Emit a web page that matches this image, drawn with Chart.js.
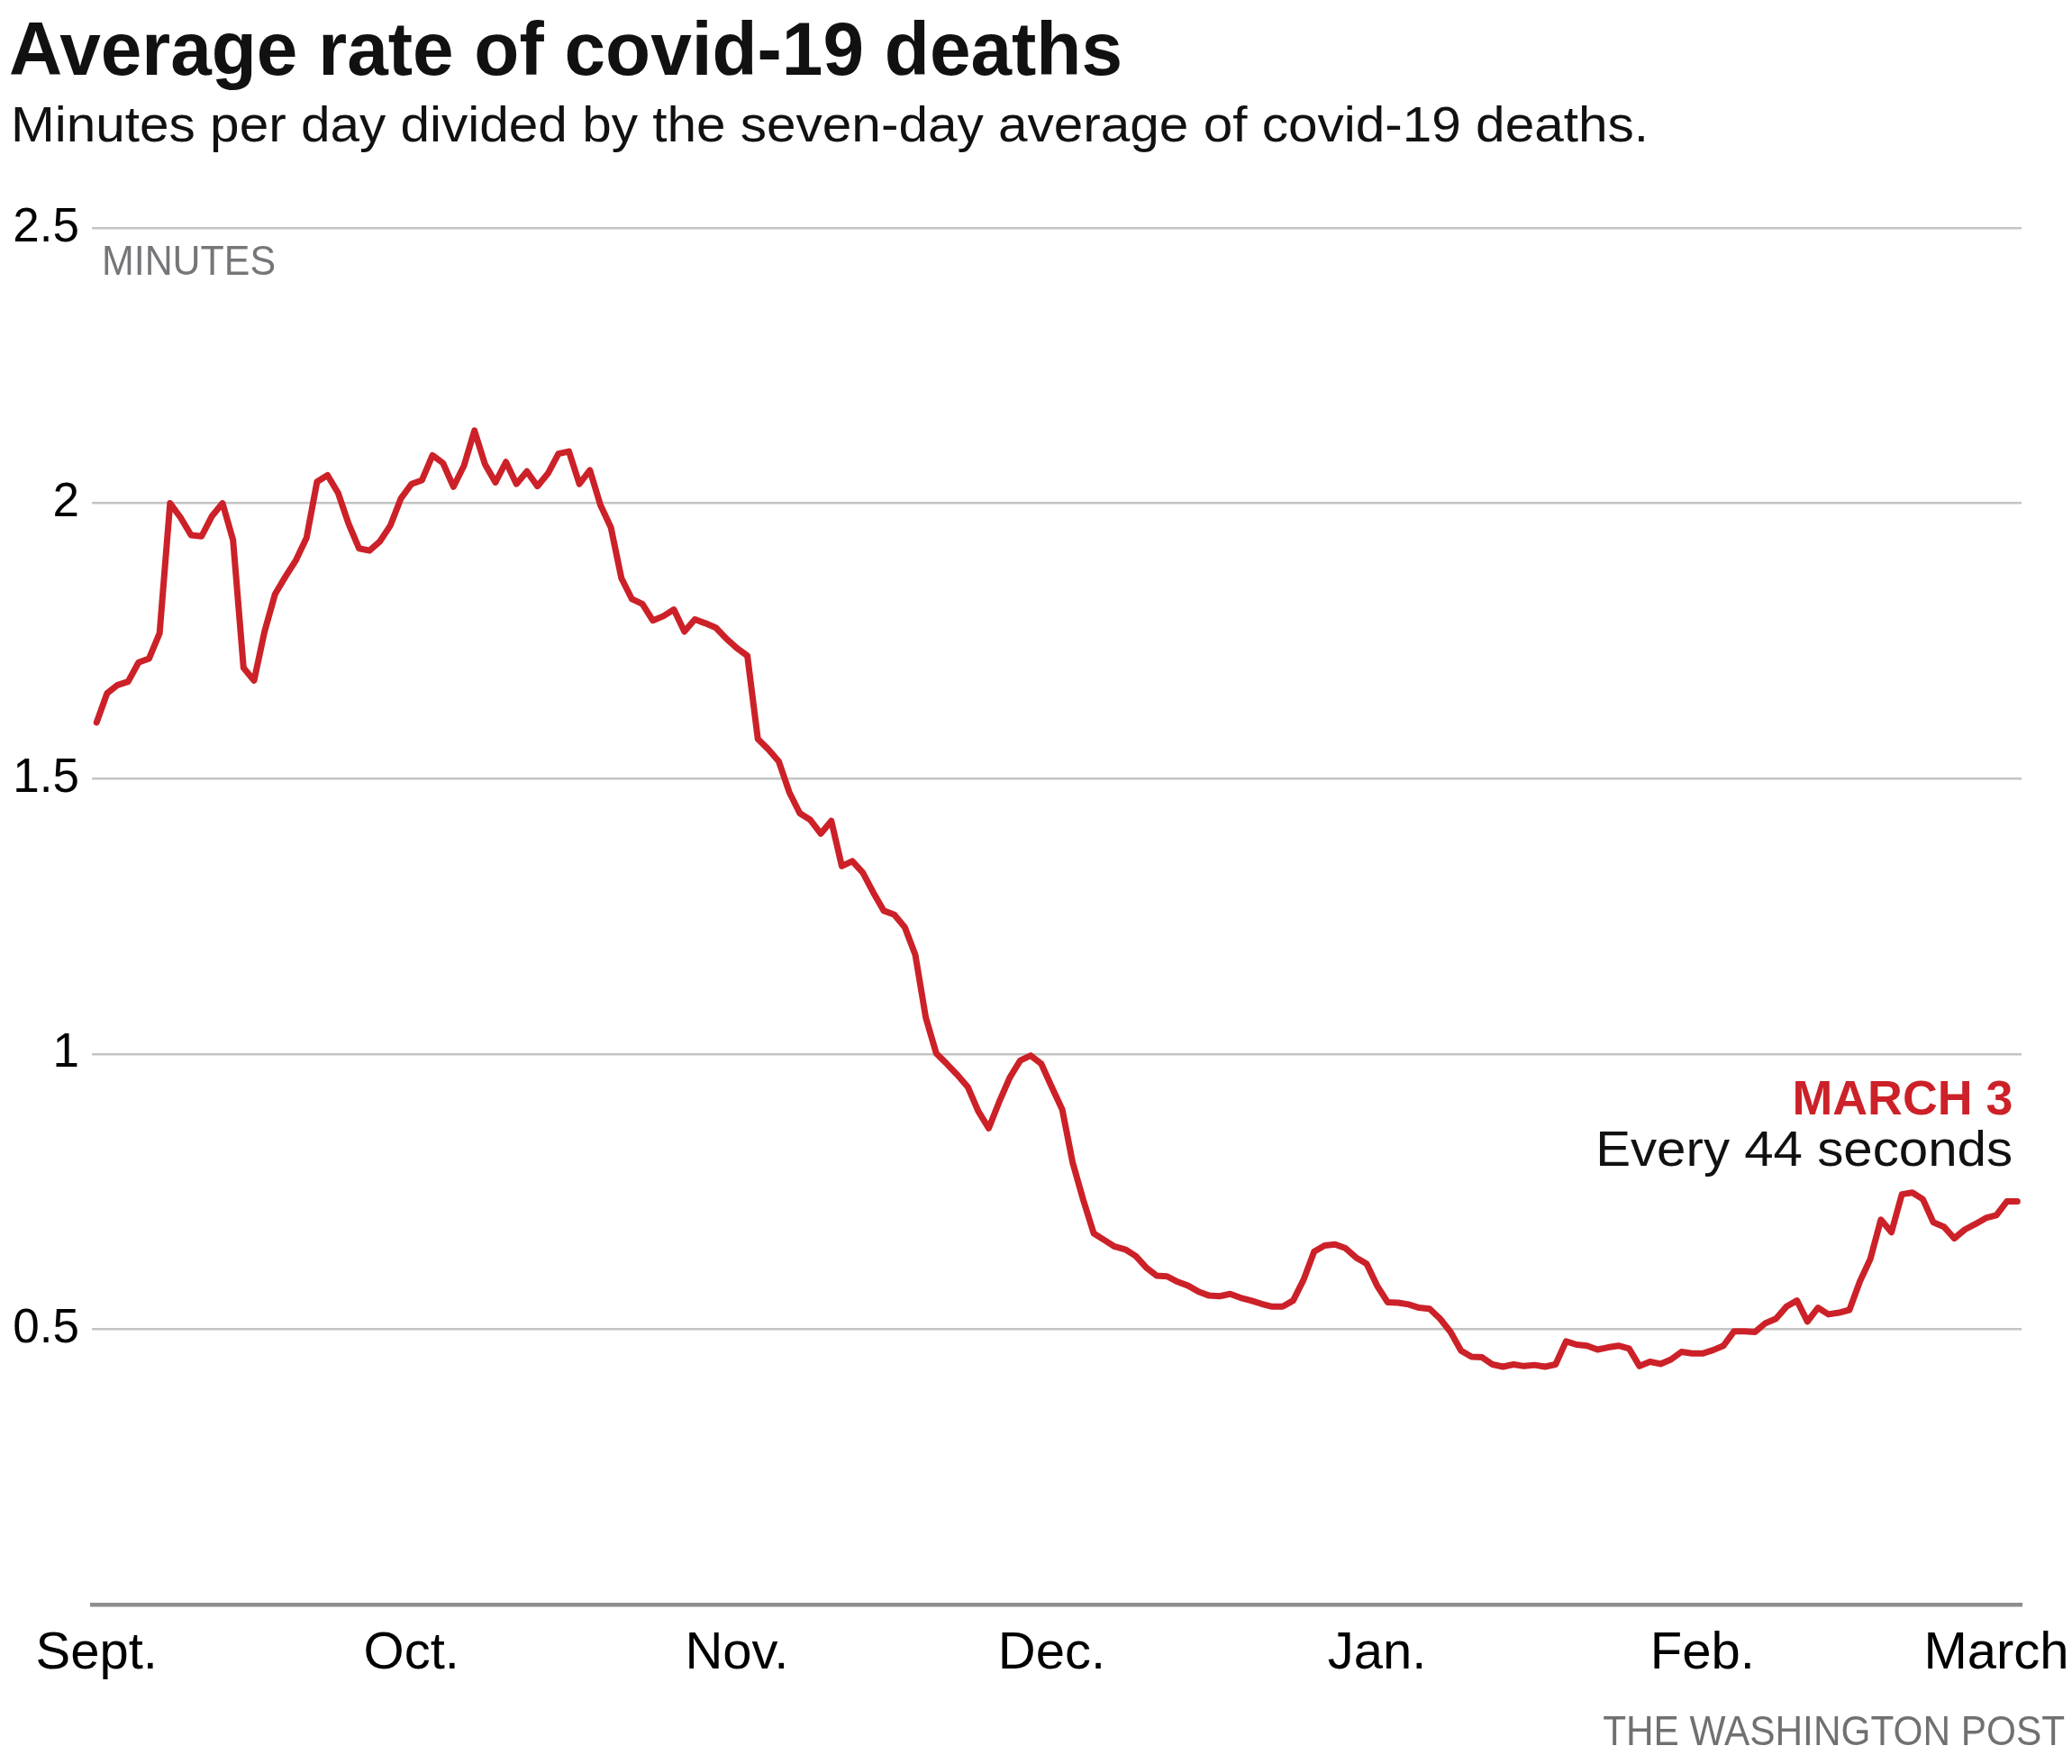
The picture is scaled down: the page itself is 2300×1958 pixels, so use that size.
<!DOCTYPE html>
<html>
<head>
<meta charset="utf-8">
<script src="https://cdn.jsdelivr.net/npm/chart.js@4.4.1/dist/chart.umd.min.js"></script>
<style>
  html, body { margin: 0; padding: 0; background: #fff; }
  #wrap { position: relative; width: 2300px; height: 1958px; overflow: hidden; background: #fff; }
  #chart { position: absolute; left: 0; top: 0; }
  .txt { position: absolute; white-space: nowrap; line-height: 1; font-family: "Liberation Sans", Arial, sans-serif; }
</style>
</head>
<body>
<div id="wrap">
  <canvas id="chart" width="2300" height="1958"></canvas>
</div>
<script>
// ---------- DATOS ----------
// minutes between deaths, one value per day, Sept. 1 -> March 3
const deathRate = [
  1.602, 1.655, 1.670, 1.676, 1.711, 1.718, 1.764, 2.000, 1.974, 1.942,
  1.940, 1.977, 2.000, 1.933, 1.701, 1.678, 1.767, 1.835, 1.867, 1.897,
  1.937, 2.039, 2.051, 2.019, 1.963, 1.918, 1.914, 1.931, 1.960, 2.009,
  2.035, 2.042, 2.087, 2.073, 2.030, 2.068, 2.132, 2.071, 2.038, 2.075,
  2.035, 2.058, 2.031, 2.054, 2.090, 2.094, 2.035, 2.060, 1.997, 1.956,
  1.864, 1.826, 1.817, 1.787, 1.795, 1.807, 1.767, 1.789, 1.782, 1.774,
  1.754, 1.737, 1.723, 1.572, 1.553, 1.531, 1.475, 1.437, 1.425, 1.400,
  1.423, 1.341, 1.350, 1.329, 1.293, 1.260, 1.253, 1.230, 1.180, 1.066,
  1.001, 0.982, 0.962, 0.940, 0.896, 0.865, 0.913, 0.957, 0.988, 0.997,
  0.982, 0.940, 0.899, 0.802, 0.735, 0.674, 0.662, 0.650, 0.645, 0.633,
  0.612, 0.597, 0.596, 0.586, 0.579, 0.568, 0.561, 0.560, 0.564, 0.557,
  0.552, 0.546, 0.541, 0.541, 0.552, 0.590, 0.641, 0.652, 0.654, 0.647,
  0.630, 0.619, 0.579, 0.549, 0.548, 0.545, 0.539, 0.537, 0.519, 0.495,
  0.461, 0.450, 0.449, 0.436, 0.432, 0.436, 0.433, 0.435, 0.432, 0.436,
  0.478, 0.472, 0.470, 0.463, 0.467, 0.470, 0.465, 0.433, 0.441, 0.437,
  0.445, 0.459, 0.456, 0.456, 0.462, 0.470, 0.496, 0.496, 0.495, 0.511,
  0.519, 0.541, 0.552, 0.514, 0.539, 0.527, 0.530, 0.535, 0.587, 0.628,
  0.699, 0.676, 0.745, 0.748, 0.736, 0.694, 0.686, 0.665, 0.681, 0.691,
  0.702, 0.707, 0.732, 0.732
];

// day index of the first of each month
const monthTicks = [0, 30, 61, 91, 122, 153, 181];
const monthLabels = ["Sept.", "Oct.", "Nov.", "Dec.", "Jan.", "Feb.", "March"];
const yTicks = [0, 0.5, 1, 1.5, 2, 2.5];

const RED = "#cc2128";
const FONT = '"Liberation Sans", Arial, sans-serif';

// ---------- TEXTOS ----------
// x = left edge (or right edge when align = "right"), y = baseline
const TEXTS = [
  { text: "Average rate of covid-19 deaths", x: 10, y: 83, w: 1236, size: 83, weight: 700, color: "#111" },
  { text: "Minutes per day divided by the seven-day average of covid-19 deaths.", x: 12, y: 157, w: 1818, size: 56, weight: 400, color: "#111" },
  { text: "MINUTES", x: 113, y: 305, w: 193, size: 46, weight: 400, color: "#76767a" },
  { text: "MARCH 3", x: 2234, y: 1237, w: 245, size: 53, weight: 700, color: RED, align: "right" },
  { text: "Every 44 seconds", x: 2234, y: 1294, w: 463, size: 56, weight: 400, color: "#111", align: "right" },
  { text: "THE WASHINGTON POST", x: 2292, y: 1937, w: 513, size: 46, weight: 400, color: "#707070", align: "right" }
];

function placeTexts() {
  const wrap = document.getElementById("wrap");
  const mctx = document.createElement("canvas").getContext("2d");
  TEXTS.forEach(t => {
    const font = `${t.weight} ${t.size}px ${FONT}`;
    mctx.font = font;
    const m = mctx.measureText(t.text);
    const asc = m.fontBoundingBoxAscent || t.size * 0.905;
    const desc = m.fontBoundingBoxDescent || t.size * 0.212;
    const top = t.y - ((t.size - (asc + desc)) / 2 + asc);
    const sx = t.w / m.width;

    const el = document.createElement("div");
    el.className = "txt";
    el.textContent = t.text;
    el.style.font = font;
    el.style.lineHeight = t.size + "px";
    el.style.color = t.color;
    el.style.top = top + "px";
    if (t.align === "right") {
      el.style.right = (2300 - t.x) + "px";
      el.style.transformOrigin = "right top";
    } else {
      el.style.left = t.x + "px";
      el.style.transformOrigin = "left top";
    }
    el.style.transform = `scaleX(${sx})`;
    wrap.appendChild(el);
  });
}

// ---------- GRAFICO ----------
const ctx = document.getElementById("chart");

new Chart(ctx, {
  type: "line",
  data: {
    datasets: [{
      data: deathRate.map((v, i) => ({ x: i, y: v })),
      borderColor: RED,
      borderWidth: 7,
      borderJoinStyle: "round",
      borderCapStyle: "round",
      pointRadius: 0,
      tension: 0,
      fill: false
    }]
  },
  options: {
    responsive: false,
    devicePixelRatio: 1,
    animation: false,
    layout: { padding: { top: 253, right: 56, bottom: 0, left: 0 } },
    plugins: { legend: { display: false }, tooltip: { enabled: false } },
    scales: {
      x: {
        type: "linear",
        min: -0.45,
        max: 183.4,
        afterBuildTicks: s => { s.ticks = monthTicks.map(v => ({ value: v })); },
        afterFit: s => { s.height = 177; s.paddingLeft = 0; s.paddingRight = 0; },
        grid: { display: false, drawTicks: false },
        border: { display: true, color: "#8e8e8e", width: 4.5 },
        ticks: {
          autoSkip: false,
          maxRotation: 0,
          padding: 20,
          color: "#000",
          font: { family: FONT, size: 58 },
          callback: v => monthLabels[monthTicks.indexOf(v)] ?? ""
        }
      },
      y: {
        min: 0,
        max: 2.5,
        afterBuildTicks: s => { s.ticks = yTicks.map(v => ({ value: v })); },
        afterFit: s => { s.width = 102; s.paddingTop = 0; s.paddingBottom = 0; },
        grid: {
          drawTicks: false,
          lineWidth: 2.5,
          color: c => (c.tick && c.tick.value === 0) ? "rgba(0,0,0,0)" : "#c4c4c4"
        },
        border: { display: false },
        ticks: {
          padding: 14,
          color: "#000",
          font: { family: FONT, size: 53 },
          callback: v => v === 0 ? "" : String(v)
        }
      }
    }
  }
});

placeTexts();
</script>
</body>
</html>
